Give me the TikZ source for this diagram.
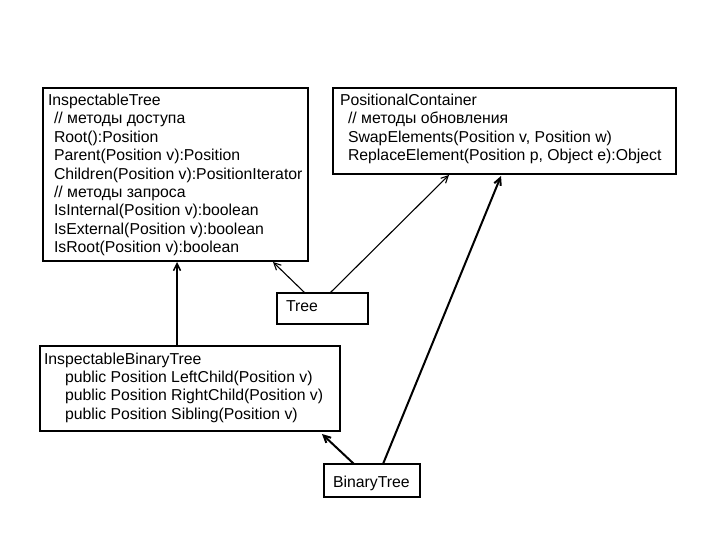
\documentclass[tikz,border=0pt]{standalone}
\usepackage{fontspec}
\setmainfont{Liberation Sans}
\usetikzlibrary{arrows.meta}
\newcommand{\boxlines}[2]{\parbox[t]{#1}{\raggedright\fontsize{15.8pt}{18.4pt}\selectfont #2}}
\newcommand{\ind}{\hspace*{6pt}}
\tikzset{
  umlbox/.style={draw=black, line width=1.5pt, inner sep=0pt, outer sep=0pt, anchor=north west, fill=white},
  txt/.style={inner sep=0pt, outer sep=0pt, anchor=base west, font=\fontsize{15.8pt}{18.4pt}\selectfont},
  arr/.style={-{Straight Barb[length=7pt,width=7pt]}, line width=1.1pt},
  arrthick/.style={-{Straight Barb[length=7pt,width=7pt]}, line width=2pt}
}
\begin{document}
\begin{tikzpicture}[x=1pt,y=-1pt]
\useasboundingbox[fill=white] (0,0) rectangle (720,540);
% boxes
\node[umlbox, minimum width=265pt, minimum height=173pt] (it) at (43,88) {};
\node[umlbox, minimum width=343pt, minimum height=86pt] (pc) at (333,88) {};
\node[umlbox, line width=1.1pt, minimum width=91pt, minimum height=31pt] (tree) at (277,293) {};
\node[umlbox, line width=2pt, minimum width=300pt, minimum height=85pt] (ibt) at (40,346) {};
\node[umlbox, line width=2pt, minimum width=96pt, minimum height=33pt] (bt) at (324,464) {};
% texts
\node[txt] (itT) at ([xshift=5pt,yshift=-17.5pt]it.north west) {\boxlines{262pt}{InspectableTree\\
\ind// методы доступа\\
\ind Root():Position\\
\ind Parent(Position v):Position\\
\ind Children(Position v):PositionIterator\\
\ind// методы запроса\\
\ind IsInternal(Position v):boolean\\
\ind IsExternal(Position v):boolean\\
\ind IsRoot(Position v):boolean}};
\node[txt] (pcT) at ([xshift=7pt,yshift=-17.5pt]pc.north west) {\boxlines{335pt}{PositionalContainer\\
\hspace*{8pt}// методы обновления\\
\hspace*{8pt}SwapElements(Position v, Position w)\\
\hspace*{8pt}ReplaceElement(Position p, Object e):Object}};
\node[txt] (ibtT) at ([xshift=4pt,yshift=-18pt]ibt.north west) {\boxlines{295pt}{InspectableBinaryTree\\
\hspace*{21pt}public Position LeftChild(Position v)\\
\hspace*{21pt}public Position RightChild(Position v)\\
\hspace*{21pt}public Position Sibling(Position v)}};
\node[txt] (treeT) at ([xshift=9pt,yshift=-18.5pt]tree.north west) {Tree};
\node[txt] (btT) at ([xshift=9pt,yshift=-23pt]bt.north west) {BinaryTree};
% connectors
\draw[arr] ([xshift=28pt]tree.north west) -- ([xshift=-35pt,yshift=-1pt]it.south east);
\draw[arr] ([xshift=53pt]tree.north west) -- ([xshift=116pt,yshift=-1pt]pc.south west);
\draw[arr, line width=1.5pt] ([xshift=137pt]ibt.north west) -- ([xshift=134pt,yshift=-1pt]it.south west);
\draw[arrthick] ([xshift=30pt]bt.north west) -- ([xshift=-18pt,yshift=-3pt]ibt.south east);
\draw[arrthick] ([xshift=59pt]bt.north west) -- ([xshift=168pt,yshift=-2pt]pc.south west);
\end{tikzpicture}
\end{document}
